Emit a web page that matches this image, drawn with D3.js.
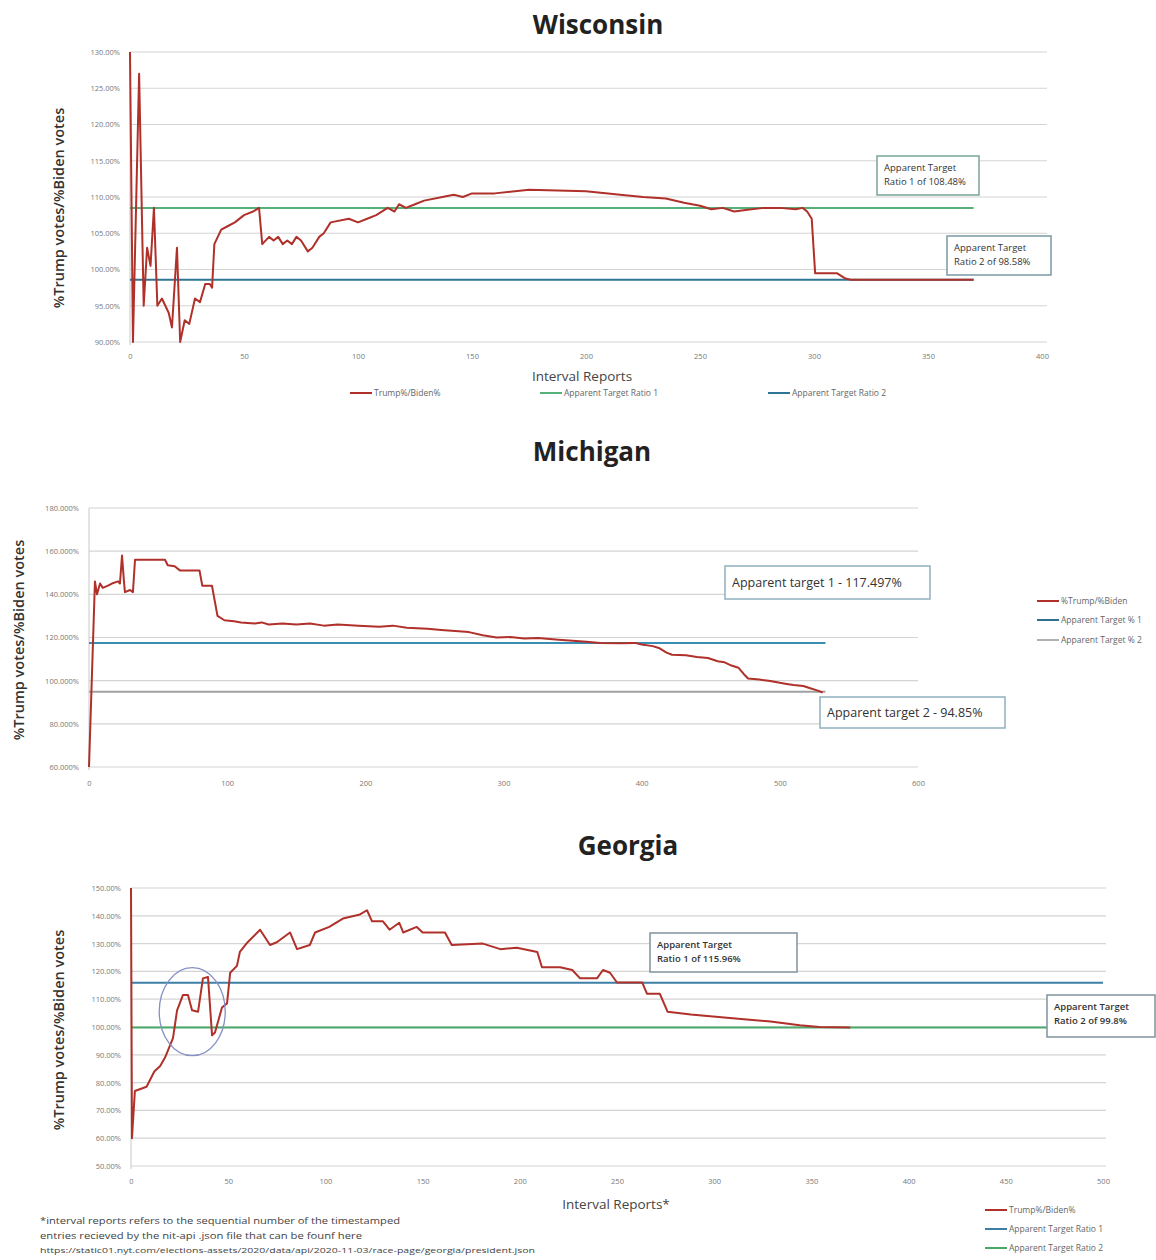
<!DOCTYPE html>
<html>
<head>
<meta charset="utf-8">
<script src="https://cdn.jsdelivr.net/npm/d3@7/dist/d3.min.js"></script>
<style>
  html, body { margin: 0; padding: 0; background: #fff; }
  svg { display: block; font-family: "Open Sans", "Liberation Sans", sans-serif; }
</style>
</head>
<body>
<svg id="chart" width="1156" height="1260"></svg>
<script>
// ---------------- DATA ----------------
// Wisconsin
const wiIndex = [0,1.3,4,6,7.5,9,10.5,12,14,17,18.4,20.6,22,24,26,28.5,30.7,33,35,36,37,40,43,46,50,54,56.6,58,61,63,65,67,69,71,73,75,78,80,83,85,88,96,100,104,108,113,116,118,121,125,129,137,142,146,150,160,175,200,215,225,235,243,250,255,260,265,270,278,285,292,295,297,299,300.5,310,313.5,316,370];
const wiRatio = [130,90,127,95,103,100.5,108.5,95,96,94,92,103,90,93,92.5,96,95.5,98,98,97.5,103.5,105.5,106,106.5,107.5,108,108.5,103.5,104.5,104,104.5,103.5,104,103.5,104.5,104,102.5,103,104.5,105,106.5,107,106.5,107,107.5,108.5,108,109,108.5,109,109.5,110,110.3,110,110.5,110.5,111,110.8,110.3,110,109.8,109.2,108.8,108.3,108.5,108,108.2,108.5,108.5,108.3,108.5,108,107,99.5,99.5,98.8,98.6,98.6];
const wiTargets = [108.48, 98.58];
const wiTargetEnd = 370;
const wiYTicks = [90,95,100,105,110,115,120,125,130];
const wiXTicks = [0,50,100,150,200,250,300,350,400];
const wiLegend = ["Trump%/Biden%","Apparent Target Ratio 1","Apparent Target Ratio 2"];
const wiNotes = [["Apparent Target","Ratio 1 of 108.48%"],["Apparent Target","Ratio 2 of 98.58%"]];

// Michigan
const miIndex = [0,4.3,5.8,8,10,13.7,16.6,21,22.4,23.9,25.3,26,29.7,31.8,33.3,55,57,62,66,80,82,89,93,98,105,110,120,125,130,140,150,160,170,180,195,210,220,230,245,255,265,275,285,295,305,315,325,340,350,360,370,385,395,400,408,413,418,422,432,440,448,455,460,465,470,474,477,485,492,500,505,510,517,522,527,531];
const miRatio = [60,146,140,145,143,144,145,146,145,158,146,141,142,141,156,156,153.5,153,151,151,144,144,130,128,127.5,127,126.5,127,126,126.5,126,126.5,125.5,126,125.5,125,125.5,124.5,124,123.5,123,122.5,121,120,120.2,119.5,119.8,119,118.5,118,117.5,117.3,117.5,116.8,116,115,113,112,111.8,111,110.5,109,108.5,107,106,103,101,100.5,100,99,98.5,98,97.5,96.5,95.5,94.5];
const miTargets = [117.497, 94.85];
const miTargetEnd = 533;
const miYTicks = [60,80,100,120,140,160,180];
const miXTicks = [0,100,200,300,400,500,600];
const miLegend = ["%Trump/%Biden","Apparent Target % 1","Apparent Target % 2"];
const miNotes = ["Apparent target 1 - 117.497%","Apparent target 2 - 94.85%"];

// Georgia
const gaIndex = [0,0.5,2,8,12,15,17.5,21.6,23.7,26.7,29.3,31.4,34.5,37,39.6,41.7,43.2,46.8,49.4,51,54.5,56,60,66.4,71.5,75,81.8,85.4,92,94.7,102,109,117.8,121.4,124,129.6,133,138,140,147,150,161.5,165,181,190,198.5,209,211.4,220.7,227,231,239.7,242.8,246.4,250,263,265.4,272,276,288,308,329,344,354,370];
const gaRatio = [150,60,77,78.5,84,86,89,96,106,111.5,111.5,106,105.5,117.5,118,97,98,107,108.5,119.5,122,127,130.5,135,129.5,130.5,134,128,129.5,134,136,139,140.5,142,138,138,135,137.5,134,136,134,134,129.5,130,128,128.5,127,121.5,121.5,120.5,117.5,117.5,120.5,119.5,116,116,112,112,105.5,104.5,103.2,102,100.6,100,99.8];
const gaTargets = [115.96, 99.8];
const gaTargetEnd = 500;
const gaYTicks = [50,60,70,80,90,100,110,120,130,140,150];
const gaXTicks = [0,50,100,150,200,250,300,350,400,450,500];
const gaLegend = ["Trump%/Biden%","Apparent Target Ratio 1","Apparent Target Ratio 2"];
const gaNotes = [["Apparent Target","Ratio 1 of 115.96%"],["Apparent Target","Ratio 2 of 99.8%"]];
const gaFootnote = [
  "*interval reports refers to the sequential number of the timestamped",
  " entries recieved by the nit-api .json file that can be founf here",
  "https://static01.nyt.com/elections-assets/2020/data/api/2020-11-03/race-page/georgia/president.json"
];

// ---------------- DRAWING ----------------
const svg = d3.select("#chart");
const RED = "#b0302a";
const GRID = "#d4d4d4";

function panel(opt) {
  const g = svg.append("g");
  const x = d3.scaleLinear().domain(opt.xDomain).range([opt.left, opt.right]);
  const y = d3.scaleLinear().domain(opt.yDomain).range([opt.bottom, opt.top]);

  g.append("text").attr("x", opt.titleX).attr("y", opt.titleY)
    .attr("text-anchor", "middle").attr("font-size", 26).attr("font-weight", 700)
    .attr("fill", "#222").text(opt.title);

  g.selectAll(".grid").data(opt.yTicks).join("line")
    .attr("x1", opt.left).attr("x2", opt.gridRight)
    .attr("y1", d => y(d)).attr("y2", d => y(d))
    .attr("stroke", GRID).attr("stroke-width", 1.2);

  g.append("line").attr("x1", opt.left).attr("x2", opt.left)
    .attr("y1", y(opt.yDomain[1])).attr("y2", y(opt.yDomain[0]) + 3)
    .attr("stroke", "#c8c8c8").attr("stroke-width", 1);

  const yAxis = d3.axisLeft(y).tickValues(opt.yTicks).tickSize(0).tickPadding(10)
    .tickFormat(d => d3.format("." + opt.yDec + "f")(d) + "%");
  const ya = g.append("g").attr("transform", `translate(${opt.left},0)`).call(yAxis);
  ya.select(".domain").remove();
  ya.selectAll("text").attr("font-size", 7.5).attr("fill", "#777")
    .attr("font-family", "Open Sans, sans-serif");

  const xAxis = d3.axisBottom(x).tickValues(opt.xTicks).tickSize(0).tickPadding(opt.xPad);
  const xa = g.append("g").attr("transform", `translate(0,${opt.bottom})`).call(xAxis);
  xa.select(".domain").remove();
  xa.selectAll("text").attr("font-size", 7.5).attr("fill", "#777")
    .attr("font-family", "Open Sans, sans-serif");

  g.append("text")
    .attr("transform", `translate(${opt.yTitleX},${opt.yTitleY}) rotate(-90)`)
    .attr("text-anchor", "middle").attr("font-size", 14.5).attr("font-weight", 600)
    .attr("fill", "#333").text("%Trump votes/%Biden votes");

  if (opt.xTitle) {
    g.append("text").attr("x", opt.xTitleX).attr("y", opt.xTitleY)
      .attr("text-anchor", "middle").attr("font-size", 13.5).attr("fill", "#444")
      .text(opt.xTitle);
  }

  opt.targets.forEach((t, i) => {
    g.append("line").attr("x1", x(0)).attr("x2", x(opt.targetEnd))
      .attr("y1", y(t)).attr("y2", y(t))
      .attr("stroke", opt.targetColors[i]).attr("stroke-width", 2);
  });

  const pts = opt.idx.map((d, i) => [d, opt.val[i]]);
  const line = d3.line().x(d => x(d[0])).y(d => y(d[1]));
  g.append("path").datum(pts).attr("d", line)
    .attr("fill", "none").attr("stroke", RED).attr("stroke-width", 2)
    .attr("stroke-linejoin", "round");

  return { g, x, y };
}

function legendItems(g, items, colors, positions, fs) {
  items.forEach((t, i) => {
    const p = positions[i];
    g.append("line").attr("x1", p[0]).attr("x2", p[0] + 22).attr("y1", p[1]).attr("y2", p[1])
      .attr("stroke", colors[i]).attr("stroke-width", 2);
    g.append("text").attr("x", p[0] + 24).attr("y", p[1] + 3)
      .attr("font-size", fs).attr("fill", "#666").text(t);
  });
}

function noteBox(g, x0, y0, w, h, lines, fs, stroke, weight) {
  g.append("rect").attr("x", x0).attr("y", y0).attr("width", w).attr("height", h)
    .attr("fill", "#fff").attr("stroke", stroke).attr("stroke-width", 1.5);
  lines.forEach((t, i) => {
    g.append("text").attr("x", x0 + 7)
      .attr("y", y0 + (lines.length === 1 ? h / 2 + fs * 0.36 : 15 + i * 14))
      .attr("font-size", fs).attr("font-weight", weight || 400).attr("fill", "#333").text(t);
  });
}

// Wisconsin
const wi = panel({
  title: "Wisconsin", titleX: 598, titleY: 34,
  xDomain: [0, 400], yDomain: [90, 130],
  left: 130, right: 1042, top: 52, bottom: 342, gridRight: 1047,
  yTicks: wiYTicks, xTicks: wiXTicks, yDec: 2, xPad: 12,
  yTitleX: 64, yTitleY: 208,
  xTitle: "Interval Reports", xTitleX: 582, xTitleY: 381,
  idx: wiIndex, val: wiRatio,
  targets: wiTargets, targetEnd: wiTargetEnd, targetColors: ["#56b07a", "#2f7494"]
});
legendItems(wi.g, wiLegend, [RED, "#56b07a", "#2f7494"], [[350, 393], [540, 393], [768, 393]], 8.5);
noteBox(wi.g, 877, 156, 102, 39, wiNotes[0], 9.5, "#7aa596");
noteBox(wi.g, 947, 236, 104, 39, wiNotes[1], 9.5, "#7a9aa5");

// Michigan
const mi = panel({
  title: "Michigan", titleX: 592, titleY: 461,
  xDomain: [0, 600], yDomain: [60, 180],
  left: 89, right: 918, top: 508, bottom: 767, gridRight: 918,
  yTicks: miYTicks, xTicks: miXTicks, yDec: 3, xPad: 14,
  yTitleX: 24, yTitleY: 640,
  xTitle: null,
  idx: miIndex, val: miRatio,
  targets: miTargets, targetEnd: miTargetEnd, targetColors: ["#3a8db3", "#a0a0a0"]
});
legendItems(mi.g, miLegend, [RED, "#2f6f8f", "#b0b0b0"], [[1037, 601], [1037, 620], [1037, 640]], 8.5);
noteBox(mi.g, 725, 566, 205, 33, [miNotes[0]], 12.5, "#8fb0bf");
noteBox(mi.g, 820, 697, 185, 31, [miNotes[1]], 12.5, "#8fb0bf");

// Georgia
const ga = panel({
  title: "Georgia", titleX: 628, titleY: 855,
  xDomain: [0, 500], yDomain: [50, 150],
  left: 131, right: 1103, top: 888, bottom: 1166, gridRight: 1106,
  yTicks: gaYTicks, xTicks: gaXTicks, yDec: 2, xPad: 13,
  yTitleX: 64, yTitleY: 1030,
  xTitle: "Interval Reports*", xTitleX: 616, xTitleY: 1209,
  idx: gaIndex, val: gaRatio,
  targets: gaTargets, targetEnd: gaTargetEnd, targetColors: ["#3d7fa6", "#4aa86a"]
});
ga.g.append("ellipse").attr("cx", ga.x(31.5)).attr("cy", ga.y(105.5))
  .attr("rx", 33).attr("ry", 44)
  .attr("fill", "none").attr("stroke", "#8590c4").attr("stroke-width", 1.3);
legendItems(ga.g, gaLegend, [RED, "#3d7fa6", "#4aa86a"], [[985, 1210], [985, 1229], [985, 1248]], 8.5);
noteBox(ga.g, 650, 933, 147, 39, gaNotes[0], 9.5, "#7f939c", 600);
noteBox(ga.g, 1047, 995, 108, 42, gaNotes[1], 9.5, "#7f939c", 600);

// footnote
const footLens = [360, 322, 495];
gaFootnote.forEach((t, i) => {
  ga.g.append("text").attr("x", 40).attr("y", 1224 + i * 14.5)
    .attr("font-size", i === 2 ? 7 : 8.5).attr("fill", "#444")
    .attr("textLength", footLens[i]).attr("lengthAdjust", "spacingAndGlyphs")
    .text(t);
});
</script>
</body>
</html>
